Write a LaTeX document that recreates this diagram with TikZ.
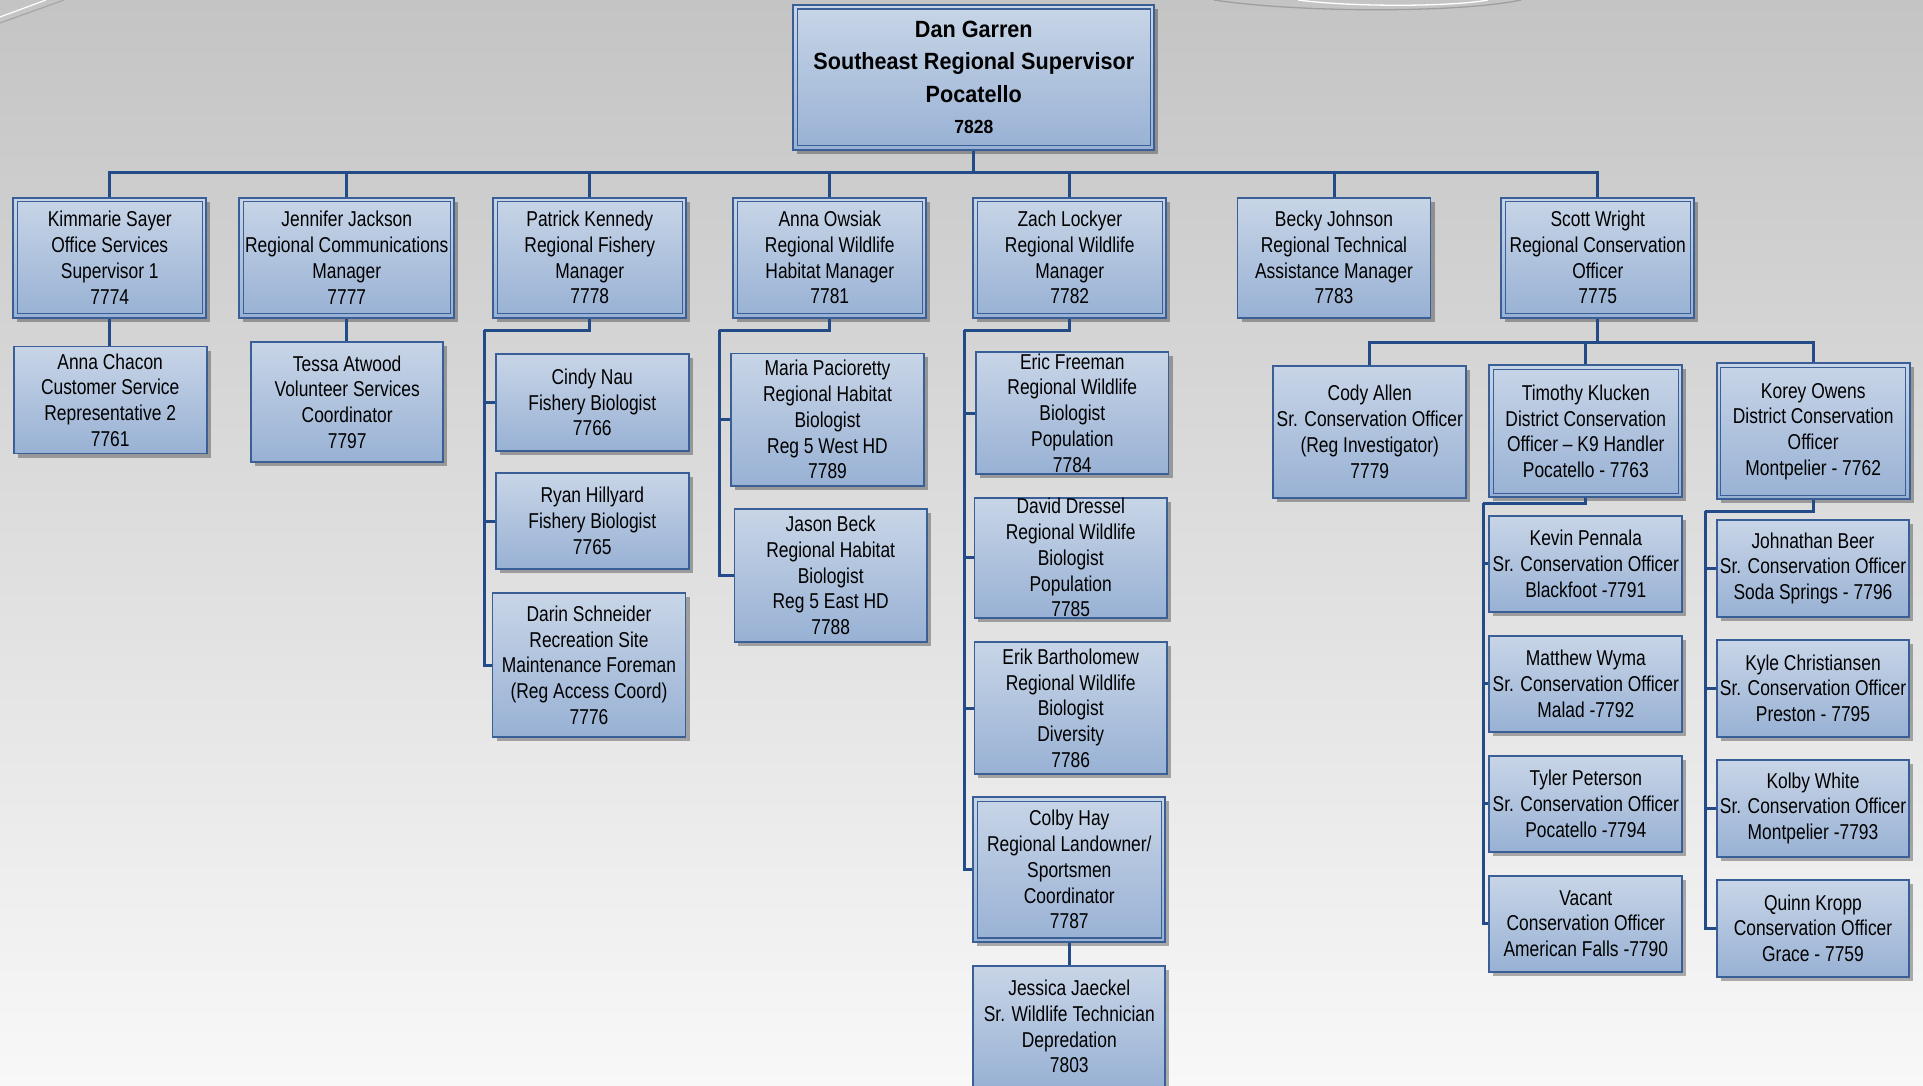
\documentclass[tikz,border=0pt]{standalone}
\usepackage{fontspec}
\setmainfont[FakeStretch=0.81]{Liberation Sans}
\newfontfamily\headfont[FakeStretch=0.92]{Liberation Sans}
\usetikzlibrary{shadows}

\definecolor{bgtop}{RGB}{196,196,196}
\definecolor{bgbot}{RGB}{248,248,248}
\definecolor{boxtop}{RGB}{200,213,231}
\definecolor{boxbot}{RGB}{152,177,212}
\definecolor{boxline}{RGB}{58,95,150}
\definecolor{connblue}{RGB}{35,75,135}

\newcommand\bodyfont{\fontsize{21.5}{25.7}\selectfont}
\newcommand\leadfont{\headfont\bfseries\fontsize{23.5}{32.5}\selectfont}

\tikzset{
  box/.style={draw=boxline, line width=1.8pt, top color=boxtop, bottom color=boxbot,
    inner sep=0pt, align=center, font=\bodyfont, text=black,
    drop shadow={shadow xshift=4pt, shadow yshift=-4pt, fill=black, opacity=0.3}},
  sz/.style 2 args={minimum width=#1pt, minimum height=#2pt},
  inset/.style={draw=boxline, line width=1.2pt},
  conn/.style={draw=connblue, line width=3pt},
}

\begin{document}
\begin{tikzpicture}[x=1pt,y=-1pt]
\useasboundingbox (0,0) rectangle (1923,1086);
\clip (0,0) rectangle (1923,1086);
% backdrop
\shade[top color=bgtop, bottom color=bgbot] (0,0) rectangle (1923,1086);
\draw[gray!70, line width=1.2pt] (0,23) -- (64,0);
\draw[white, line width=1.2pt] (0,17) -- (46,0);
\draw[gray!75, line width=1.3pt] (1214,0) .. controls (1300,13) and (1460,13) .. (1521,0);
\draw[white, line width=1.3pt] (1298,0) .. controls (1350,7) and (1450,7) .. (1488,0);

% supervisor
\node[box, sz={361}{145}, font=\leadfont] (top) at (973.8,77.5)
  {Dan Garren\\Southeast Regional Supervisor\\Pocatello\\[-1pt]{\fontsize{19}{32.5}\selectfont 7828}};

% managers
\node[box, sz={193}{120}] (kim) at (109.8,257.7) {Kimmarie Sayer\\Office Services\\Supervisor 1\\7774};
\node[box, sz={215}{120}] (jen) at (346.8,257.7) {Jennifer Jackson\\Regional Communications\\Manager\\7777};
\node[box, sz={193}{120}] (pat) at (589.8,257.7) {Patrick Kennedy\\Regional Fishery\\Manager\\7778};
\node[box, sz={193}{120}] (aow) at (829.8,257.7) {Anna Owsiak\\Regional Wildlife\\Habitat Manager\\7781};
\node[box, sz={193}{120}] (zach) at (1069.8,257.7) {Zach Lockyer\\Regional Wildlife\\Manager\\7782};
\node[box, sz={193}{120}] (becky) at (1334,257.7) {Becky Johnson\\Regional Technical\\Assistance Manager\\7783};
\node[box, sz={193}{120}] (scott) at (1597.8,257.7) {Scott Wright\\Regional Conservation\\Officer\\7775};

% office and communications staff
\node[box, sz={193}{107}] (anna) at (110.2,400) {Anna Chacon\\Customer Service\\Representative 2\\7761};
\node[box, sz={192}{120}] (tessa) at (347.2,402) {Tessa Atwood\\Volunteer Services\\Coordinator\\7797};

% fishery staff
\node[box, sz={193}{96.5}] (cindy) at (592.3,402.5) {Cindy Nau\\Fishery Biologist\\7766};
\node[box, sz={193}{96.5}] (ryan) at (592.3,521) {Ryan Hillyard\\Fishery Biologist\\7765};
\node[box, sz={193}{144}] (darin) at (589,665.3) {Darin Schneider\\Recreation Site\\Maintenance Foreman\\(Reg Access Coord)\\7776};

% habitat staff
\node[box, sz={192.5}{132.5}] (maria) at (827.5,419.7) {Maria Pacioretty\\Regional Habitat\\Biologist\\Reg 5 West HD\\7789};
\node[box, sz={192.5}{132.5}] (jason) at (830.7,575.5) {Jason Beck\\Regional Habitat\\Biologist\\Reg 5 East HD\\7788};

% wildlife staff
\node[box, sz={192.5}{122.6}] (eric) at (1072.3,413) {Eric Freeman\\Regional Wildlife\\Biologist\\Population\\7784};
\node[box, sz={192.5}{120}] (david) at (1070.7,557.7) {David Dressel\\Regional Wildlife\\Biologist\\Population\\7785};
\node[box, sz={192.5}{131.7}] (erik) at (1070.7,708.2) {Erik Bartholomew\\Regional Wildlife\\Biologist\\Diversity\\7786};
\node[box, sz={192}{144.7}] (colby) at (1069.3,869.7) {Colby Hay\\Regional Landowner/\\Sportsmen\\Coordinator\\7787};
\node[box, sz={192}{122}] (jessica) at (1069.3,1026.7) {Jessica Jaeckel\\Sr. Wildlife Technician\\Depredation\\7803};

% conservation officers
\node[box, sz={193}{132.2}] (cody) at (1369.8,431.8) {Cody Allen\\Sr. Conservation Officer\\(Reg Investigator)\\7779};
\node[box, sz={193}{132.3}] (tim) at (1585.8,431.2) {Timothy Klucken\\District Conservation\\Officer – K9 Handler\\Pocatello - 7763};
\node[box, sz={193}{136}] (korey) at (1813.2,431.3) {Korey Owens\\District Conservation\\Officer\\Montpelier - 7762};

\node[box, sz={193}{96}] (kevin) at (1585.8,563.7) {Kevin Pennala\\Sr. Conservation Officer\\Blackfoot -7791};
\node[box, sz={193}{96}] (matthew) at (1585.8,683.7) {Matthew Wyma\\Sr. Conservation Officer\\Malad -7792};
\node[box, sz={193}{96}] (tyler) at (1585.8,803.7) {Tyler Peterson\\Sr. Conservation Officer\\Pocatello -7794};
\node[box, sz={193}{96}] (vacant) at (1585.8,923.7) {Vacant\\Conservation Officer\\American Falls -7790};

\node[box, sz={192.6}{96.7}] (johnathan) at (1813,568.3) {Johnathan Beer\\Sr. Conservation Officer\\Soda Springs - 7796};
\node[box, sz={192.6}{96.7}] (kyle) at (1813,688.3) {Kyle Christiansen\\Sr. Conservation Officer\\Preston - 7795};
\node[box, sz={192.6}{96.7}] (kolby) at (1813,808.3) {Kolby White\\Sr. Conservation Officer\\Montpelier -7793};
\node[box, sz={192.6}{96.7}] (quinn) at (1813,928.3) {Quinn Kropp\\Conservation Officer\\Grace - 7759};

% inner frame of the lead positions
\foreach \n in {top,kim,jen,pat,aow,zach,scott,colby,tim,korey}
  \draw[inset] ([shift={(5,5)}]\n.north west) rectangle ([shift={(-5,-5)}]\n.south east);

% reporting lines
\coordinate (bus) at (973.8,173);
\draw[conn] (top.south) -- (bus);
\foreach \n in {kim,jen,pat,aow,zach,becky,scott}
  \draw[conn] (\n.north) |- (bus);

\draw[conn] (kim.south) -- (kim.south |- anna.north);
\draw[conn] (jen.south) -- (jen.south |- tessa.north);

\coordinate (patT) at (484.3,330);
\draw[conn] (pat.south) |- (patT);
\foreach \n in {cindy,ryan,darin} \draw[conn] (patT) |- (\n.west);

\coordinate (aowT) at (719,330);
\draw[conn] (aow.south) |- (aowT);
\foreach \n in {maria,jason} \draw[conn] (aowT) |- (\n.west);

\coordinate (zachT) at (964.3,330);
\draw[conn] (zach.south) |- (zachT);
\foreach \n in {eric,david,erik,colby} \draw[conn] (zachT) |- (\n.west);
\draw[conn] (colby.south) -- (jessica.north);

\coordinate (scottBus) at (1597.8,342.3);
\draw[conn] (scott.south) -- (scottBus);
\foreach \n in {cody,tim,korey} \draw[conn] (\n.north) |- (scottBus);

\coordinate (timT) at (1483.3,503.3);
\draw[conn] (tim.south) |- (timT);
\foreach \n in {kevin,matthew,tyler,vacant} \draw[conn] (timT) |- (\n.west);

\coordinate (koreyT) at (1705,511);
\draw[conn] (korey.south) |- (koreyT);
\foreach \n in {johnathan,kyle,kolby,quinn} \draw[conn] (koreyT) |- (\n.west);
\end{tikzpicture}
\end{document}
